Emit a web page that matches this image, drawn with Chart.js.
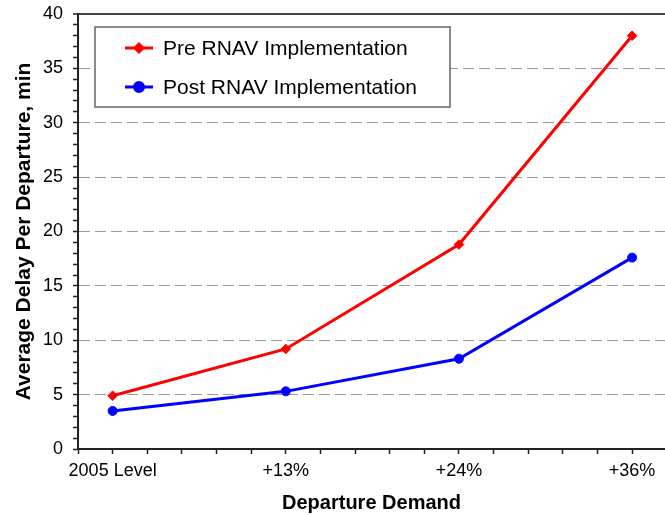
<!DOCTYPE html>
<html>
<head>
<meta charset="utf-8">
<script src="https://cdn.jsdelivr.net/npm/chart.js@4/dist/chart.umd.min.js"></script>
<style>
  html, body { margin: 0; padding: 0; background: #fff; }
  #wrap { width: 665px; height: 515px; }
</style>
</head>
<body>
<div id="wrap"><canvas id="grafico" width="665" height="515"></canvas></div>
<script>
// categorias do eixo x e valores
const categorias = ['2005 Level', '+13%', '+24%', '+36%'];
const preRnav = [4.9, 9.2, 18.8, 38.0];
const postRnav = [3.5, 5.3, 8.3, 17.6];
const yTicks = [0, 5, 10, 15, 20, 25, 30, 35, 40];

// cada categoria fica a 5 marcas de distancia (eixo com marcas menores)
const passo = 5;
const catX = categorias.map((c, i) => 1 + i * passo);

const fonte = "'Liberation Sans', Arial, sans-serif";

function pontos(valores) {
	return valores.map((v, i) => ({ x: catX[i], y: v }));
}

// legenda desenhada dentro da area do grafico, com caixa
const legendaCaixa = {
	id: 'legendaCaixa',
	afterDraw(chart) {
		const { ctx, chartArea } = chart;
		const x = chartArea.left + 17;
		const y = chartArea.top + 13;
		const w = 355, h = 80;
		ctx.save();
		ctx.fillStyle = '#fff';
		ctx.fillRect(x, y, w, h);
		ctx.strokeStyle = '#666';
		ctx.lineWidth = 1.5;
		ctx.strokeRect(x, y, w, h);
		chart.data.datasets.forEach((ds, i) => {
			const cy = y + 21 + i * 39;
			ctx.strokeStyle = ds.borderColor;
			ctx.lineWidth = 3;
			ctx.beginPath();
			ctx.moveTo(x + 30, cy);
			ctx.lineTo(x + 58, cy);
			ctx.stroke();
			ctx.fillStyle = ds.borderColor;
			Chart.helpers.drawPoint(ctx, {
				pointStyle: ds.pointStyle,
				radius: ds.pointStyle === 'circle' ? 4.5 : 4,
				rotation: 0,
				borderWidth: 1
			}, x + 44, cy);
			ctx.fillStyle = '#000';
			ctx.font = '21px ' + fonte;
			ctx.textBaseline = 'middle';
			ctx.textAlign = 'left';
			ctx.fillText(ds.label, x + 68, cy + 1);
		});
		ctx.restore();
	}
};

const grafico = document.getElementById('grafico').getContext('2d');
const dados = {
	type: 'line',
	data: {
		datasets: [{
			label: 'Pre RNAV Implementation',
			data: pontos(preRnav),
			borderColor: '#ff0000',
			backgroundColor: '#ff0000',
			borderWidth: 3,
			pointStyle: 'rectRot',
			pointRadius: 4.8,
			pointBorderWidth: 1,
			tension: 0
		}, {
			label: 'Post RNAV Implementation',
			data: pontos(postRnav),
			borderColor: '#0000ff',
			backgroundColor: '#0000ff',
			borderWidth: 3,
			pointStyle: 'circle',
			pointRadius: 4.5,
			pointBorderWidth: 1,
			tension: 0
		}]
	},
	options: {
		responsive: false,
		animation: false,
		layout: { autoPadding: false, padding: { top: 14, right: 0, bottom: 0, left: 0 } },
		plugins: {
			legend: { display: false },
			tooltip: { enabled: false }
		},
		scales: {
			x: {
				type: 'linear',
				min: 0,
				max: 16.95,
				afterFit(scale) {
					scale.height = 66;
					scale.paddingLeft = 0;
					scale.paddingRight = 0;
				},
				ticks: {
					stepSize: 1,
					includeBounds: false,
					autoSkip: false,
					maxRotation: 0,
					padding: 6,
					color: '#000',
					font: { family: fonte, size: 18 },
					callback(v) {
						const i = catX.indexOf(v);
						return i >= 0 ? categorias[i] : '';
					}
				},
				grid: {
					drawOnChartArea: false,
					drawTicks: true,
					tickLength: 5,
					tickColor: '#222',
					tickWidth: 1.5
				},
				border: { color: '#222', width: 2 },
				title: {
					display: true,
					text: 'Departure Demand',
					color: '#000',
					font: { family: fonte, size: 20, weight: 'bold' },
					padding: { top: 0, bottom: 0 }
				}
			},
			y: {
				min: 0,
				max: 40,
				afterFit(scale) {
					scale.width = 78;
					scale.paddingTop = 0;
					scale.paddingBottom = 0;
				},
				ticks: {
					stepSize: 1,
					autoSkip: false,
					padding: 10,
					color: '#000',
					font: { family: fonte, size: 18 },
					callback(v) { return yTicks.includes(v) ? String(v) : ''; }
				},
				grid: {
					drawTicks: true,
					tickLength: 5,
					tickColor: '#222',
					tickWidth: 1.5,
					color(c) {
						const v = c.tick ? c.tick.value : null;
						if (v === 40) return '#444';
						if (v !== 0 && yTicks.includes(v)) return '#9a9a9a';
						return 'rgba(0,0,0,0)';
					},
					lineWidth(c) {
						return c.tick && c.tick.value === 40 ? 2 : 1;
					}
				},
				border: {
					color: '#222',
					width: 2,
					dash(c) {
						return c.tick && c.tick.value === 40 ? [] : [11, 5];
					}
				},
				title: {
					display: true,
					text: 'Average Delay Per Departure, min',
					color: '#000',
					font: { family: fonte, size: 21, weight: 'bold' },
					padding: { top: 12, bottom: 0 }
				}
			}
		}
	},
	plugins: [legendaCaixa]
};

const meuGrafico = new Chart(grafico, dados);
</script>
</body>
</html>
